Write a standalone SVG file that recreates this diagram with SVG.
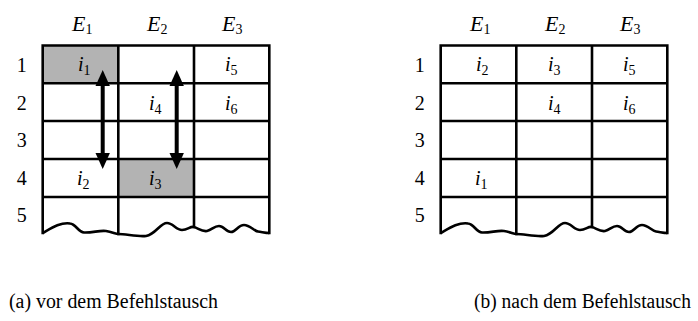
<svg xmlns="http://www.w3.org/2000/svg" width="698" height="321" viewBox="0 0 698 321">
<defs>
<g id="grid" stroke="#000" stroke-width="2.6" fill="none">
<path stroke-linecap="square" d="M42.7,45.5H269.3 M42.7,83.3H269.3 M42.7,121H269.3 M42.7,159H269.3 M42.7,197H269.3 M42.7,45.5V233 M118.3,45.5V234 M194,45.5V227 M269.3,45.5V233"/>
<path stroke-linejoin="round" d="M42.7,233 C50,229 60,222 70,223.5 C76,224 78,232 84,232.5 C92,233 100,230 106,231 C112,232 116,234 118.3,234 C126,234 138,237 146,236 C156,234 160,223 167,223 C173,223 176,230 182,230 C188,230 190,226 194,227 C198,228 202,232 207,231 C212,230 214,226 219,226 C224,226 226,232 231,232 C236,232 238,225 244,225 C250,225 254,231 258,231.5 C262,232 266,233 269.3,233"/>
</g>
<g id="nums">
<text font-family="Liberation Serif" font-size="20" text-anchor="middle" x="21.7" y="71.5">1</text>
<text font-family="Liberation Serif" font-size="20" text-anchor="middle" x="21.7" y="109.5">2</text>
<text font-family="Liberation Serif" font-size="20" text-anchor="middle" x="21.7" y="147">3</text>
<text font-family="Liberation Serif" font-size="20" text-anchor="middle" x="21.7" y="185">4</text>
<text font-family="Liberation Serif" font-size="20" text-anchor="middle" x="21.7" y="222">5</text>
</g>
<g id="heads">
<text font-family="Liberation Serif" font-size="22" font-style="italic" x="72" y="31">E<tspan font-style="normal" font-size="14" dy="3">1</tspan></text>
<text font-family="Liberation Serif" font-size="22" font-style="italic" x="147" y="31">E<tspan font-style="normal" font-size="14" dy="3">2</tspan></text>
<text font-family="Liberation Serif" font-size="22" font-style="italic" x="222" y="31">E<tspan font-style="normal" font-size="14" dy="3">3</tspan></text>
</g>
</defs>

<g id="table-a">
<rect fill="#b3b3b3" x="42.7" y="45.5" width="75.6" height="37.8"/>
<rect fill="#b3b3b3" x="118.3" y="159" width="75.7" height="38"/>
<use href="#grid"/>
<use href="#nums"/>
<use href="#heads"/>
</g>
<g id="labels-a">
<text font-family="Liberation Serif" font-size="20" font-style="italic" x="78" y="71">i<tspan font-style="normal" font-size="14" dy="4">1</tspan></text>
<text font-family="Liberation Serif" font-size="20" font-style="italic" x="77" y="185">i<tspan font-style="normal" font-size="14" dy="4">2</tspan></text>
<text font-family="Liberation Serif" font-size="20" font-style="italic" x="149" y="185">i<tspan font-style="normal" font-size="14" dy="4">3</tspan></text>
<text font-family="Liberation Serif" font-size="20" font-style="italic" x="149" y="110">i<tspan font-style="normal" font-size="14" dy="4">4</tspan></text>
<text font-family="Liberation Serif" font-size="20" font-style="italic" x="225" y="71">i<tspan font-style="normal" font-size="14" dy="4">5</tspan></text>
<text font-family="Liberation Serif" font-size="20" font-style="italic" x="225" y="110">i<tspan font-style="normal" font-size="14" dy="4">6</tspan></text>
</g>

<g id="connectors">
<line stroke="#000" stroke-width="4" x1="102.7" y1="82" x2="102.7" y2="157"/>
<polygon points="102.7,70 95.5,86 109.9,86"/>
<polygon points="102.7,169 95.5,153 109.9,153"/>
<line stroke="#000" stroke-width="4" x1="176.7" y1="82" x2="176.7" y2="157"/>
<polygon points="176.7,70 169.5,86 183.9,86"/>
<polygon points="176.7,169 169.5,153 183.9,153"/>
</g>

<g id="table-b" transform="translate(398,0)">
<use href="#grid"/>
<use href="#nums"/>
<use href="#heads"/>
</g>
<g id="labels-b">
<text font-family="Liberation Serif" font-size="20" font-style="italic" x="476" y="71">i<tspan font-style="normal" font-size="14" dy="4">2</tspan></text>
<text font-family="Liberation Serif" font-size="20" font-style="italic" x="548" y="71">i<tspan font-style="normal" font-size="14" dy="4">3</tspan></text>
<text font-family="Liberation Serif" font-size="20" font-style="italic" x="623" y="71">i<tspan font-style="normal" font-size="14" dy="4">5</tspan></text>
<text font-family="Liberation Serif" font-size="20" font-style="italic" x="548" y="110">i<tspan font-style="normal" font-size="14" dy="4">4</tspan></text>
<text font-family="Liberation Serif" font-size="20" font-style="italic" x="623" y="110">i<tspan font-style="normal" font-size="14" dy="4">6</tspan></text>
<text font-family="Liberation Serif" font-size="20" font-style="italic" x="475" y="185">i<tspan font-style="normal" font-size="14" dy="4">1</tspan></text>
</g>

<g id="captions">
<text font-family="Liberation Serif" font-size="20" x="9" y="308" textLength="209" lengthAdjust="spacingAndGlyphs">(a) vor dem Befehlstausch</text>
<text font-family="Liberation Serif" font-size="20" x="474" y="308" textLength="217" lengthAdjust="spacingAndGlyphs">(b) nach dem Befehlstausch</text>
</g>
</svg>
